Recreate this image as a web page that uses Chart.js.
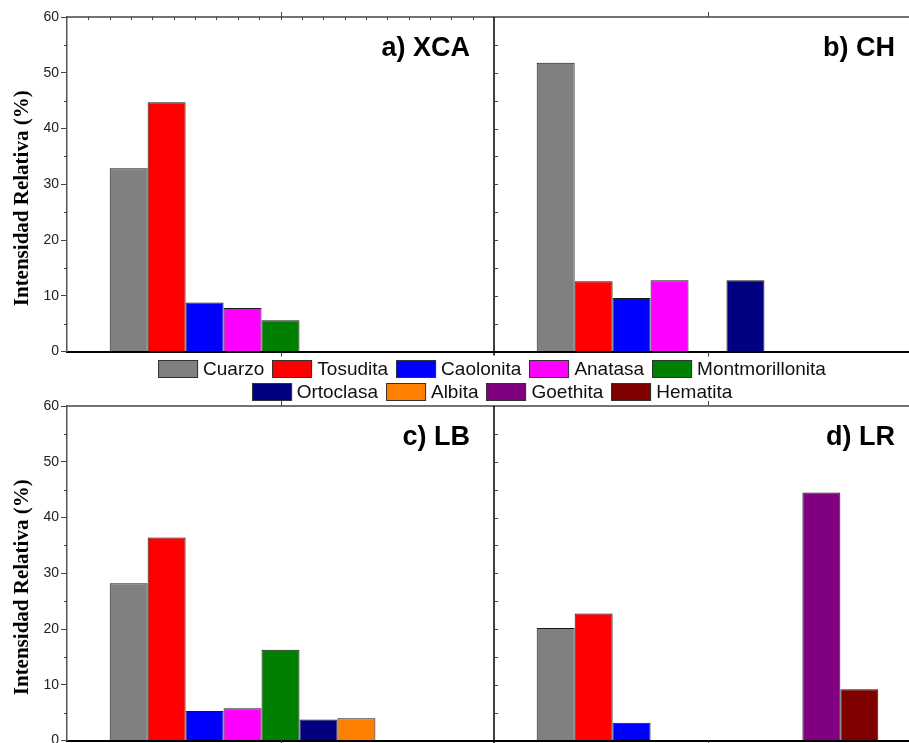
<!DOCTYPE html>
<html lang="es">
<head>
  <meta charset="UTF-8">
  <title>Intensidad Relativa</title>
  <script src="https://cdn.jsdelivr.net/npm/chart.js"></script>
  <style>
    html, body {
      margin: 0;
      padding: 0;
      background: #fff;
      overflow: hidden;
      width: 909px;
      height: 743px;
    }
    .row {
      position: absolute;
      left: 0;
      width: 930px;
    }
    #topRow { top: 0; height: 362px; }
    #bottomRow { top: 392px; height: 359px; }
    #legend {
      position: absolute;
      top: 357px;
      left: 492px;
      transform: translateX(-50%);
      font-family: "Liberation Sans", Arial, sans-serif;
      font-size: 19px;
      color: #111;
      z-index: 2;
    }
    .legend-row {
      display: flex;
      justify-content: center;
      align-items: center;
      height: 23px;
      white-space: nowrap;
    }
    .legend-item {
      display: flex;
      align-items: center;
      margin: 0 4px;
    }
    .legend-box {
      width: 40px;
      height: 18px;
      border: 1px solid #333;
      margin-right: 5px;
      box-sizing: border-box;
    }
  </style>
</head>
<body>
  <div class="row" id="topRow"><canvas id="topChart"></canvas></div>
  <div id="legend"></div>
  <div class="row" id="bottomRow"><canvas id="bottomChart"></canvas></div>

  <script>
    // Minerals (datasets) and their colours
    const minerals = ['Cuarzo', 'Tosudita', 'Caolonita', 'Anatasa', 'Montmorillonita',
                      'Ortoclasa', 'Albita', 'Goethita', 'Hematita'];
    const mineralColors = ['#808080', '#ff0000', '#0000ff', '#ff00ff', '#008000',
                           '#000080', '#ff8000', '#800080', '#800000'];
    const legendRows = [5, 4];

    // Panels
    const topPanels = ['a) XCA', 'b) CH'];
    const bottomPanels = ['c) LB', 'd) LR'];

    // Values per mineral, order: a) XCA, b) CH, c) LB, d) LR (null = not present)
    const cuarzo          = [32.9, 51.8, 28.2, 20.2];
    const tosudita        = [44.7, 12.6, 36.4, 22.8];
    const caolonita       = [8.8, 9.6, 5.3, 3.2];
    const anatasa         = [7.8, 12.8, 5.8, null];
    const montmorillonita = [5.6, null, 16.3, null];
    const ortoclasa       = [null, 12.8, 3.8, null];
    const albita          = [null, null, 4.0, null];
    const goethita        = [null, null, null, 44.5];
    const hematita        = [null, null, null, 9.2];

    const seriesValues = [cuarzo, tosudita, caolonita, anatasa, montmorillonita,
                          ortoclasa, albita, goethita, hematita];

    const yTicks = [0, 10, 20, 30, 40, 50, 60];
    const yTitle = 'Intensidad Relativa (%)';

    // Legend (HTML)
    const legend = document.getElementById('legend');
    let idx = 0;
    legendRows.forEach(function (count) {
      const row = document.createElement('div');
      row.className = 'legend-row';
      for (let i = 0; i < count; i++, idx++) {
        const item = document.createElement('div');
        item.className = 'legend-item';
        const box = document.createElement('span');
        box.className = 'legend-box';
        box.style.background = mineralColors[idx];
        const txt = document.createElement('span');
        txt.textContent = minerals[idx];
        item.appendChild(box);
        item.appendChild(txt);
        row.appendChild(item);
      }
      legend.appendChild(row);
    });

    // Frame, extra ticks, panel labels and y title
    const framePlugin = {
      id: 'frame',
      afterDraw(chart, args, opts) {
        const ctx = chart.ctx;
        const area = chart.chartArea;
        const x = chart.scales.x;
        const y = chart.scales.y;
        const p0 = x.getPixelForValue(0);
        const p1 = x.getPixelForValue(1);
        const mid = (p0 + p1) / 2;
        const catW = p1 - p0;
        ctx.save();

        // top line
        ctx.strokeStyle = '#444';
        ctx.lineWidth = 1.5;
        ctx.beginPath();
        ctx.moveTo(area.left, area.top);
        ctx.lineTo(area.right, area.top);
        ctx.stroke();

        // minor ticks on the left axis (outside)
        ctx.lineWidth = 1;
        ctx.strokeStyle = '#444';
        for (let v = 5; v < 60; v += 10) {
          const py = Math.round(y.getPixelForValue(v)) + 0.5;
          ctx.beginPath();
          ctx.moveTo(area.left - 3, py);
          ctx.lineTo(area.left, py);
          ctx.stroke();
        }

        // small ticks along the top (left panel)
        if (opts.minorTop) {
          for (let k = 1; k < 20; k++) {
            const px = Math.round(area.left + k * catW / 20) + 0.5;
            ctx.beginPath();
            ctx.moveTo(px, area.top);
            ctx.lineTo(px, area.top + 3);
            ctx.stroke();
          }
        }

        // ticks at category centres on top and bottom
        [p0, p1].forEach(function (c) {
          const px = Math.round(c) + 0.5;
          ctx.beginPath();
          ctx.moveTo(px, area.bottom);
          ctx.lineTo(px, area.bottom + 5);
          ctx.moveTo(px, area.top);
          ctx.lineTo(px, area.top - 5);
          ctx.stroke();
        });

        // divider between panels
        ctx.strokeStyle = '#000';
        ctx.lineWidth = 1.5;
        ctx.beginPath();
        ctx.moveTo(mid, area.top);
        ctx.lineTo(mid, area.bottom + 4);
        ctx.stroke();

        // divider ticks (inside, right)
        ctx.lineWidth = 1;
        ctx.strokeStyle = '#444';
        for (let v = 5; v < 60; v += 5) {
          const py = Math.round(y.getPixelForValue(v)) + 0.5;
          ctx.beginPath();
          ctx.moveTo(mid, py);
          ctx.lineTo(mid + 4, py);
          ctx.stroke();
        }

        // panel labels
        ctx.fillStyle = '#000';
        ctx.font = 'bold 27px "Liberation Sans", Arial, sans-serif';
        ctx.textAlign = 'right';
        ctx.textBaseline = 'middle';
        ctx.fillText(x.getLabels()[0], mid - 24, area.top + 32);
        ctx.fillText(x.getLabels()[1], area.right - 26, area.top + 32);

        // y title
        ctx.save();
        ctx.translate(23, (area.top + area.bottom) / 2 + 14);
        ctx.rotate(-Math.PI / 2);
        ctx.textAlign = 'center';
        ctx.font = 'bold 21px "Liberation Serif", "Times New Roman", serif';
        ctx.fillText(yTitle, 0, 0);
        ctx.restore();

        ctx.restore();
      }
    };

    function makeChart(canvasId, panels, from, pad, minorTop) {
      const datasets = minerals.map(function (name, i) {
        return {
          label: name,
          data: seriesValues[i].slice(from, from + 2),
          backgroundColor: mineralColors[i],
          borderColor: '#1a1a1a',
          borderWidth: 1,
          categoryPercentage: 0.8,
          barPercentage: 1.0
        };
      });

      return new Chart(document.getElementById(canvasId), {
        type: 'bar',
        data: { labels: panels, datasets: datasets },
        options: {
          responsive: true,
          maintainAspectRatio: false,
          animation: false,
          layout: { padding: pad },
          plugins: {
            legend: { display: false },
            tooltip: { enabled: false },
            frame: { minorTop: minorTop }
          },
          scales: {
            x: {
              afterFit: function (s) { s.height = 0; },
              grid: { display: false },
              ticks: { display: false },
              border: { color: '#000', width: 2 }
            },
            y: {
              min: 0,
              max: 60,
              afterFit: function (s) { s.width = 67; },
              afterBuildTicks: function (s) {
                s.ticks = yTicks.map(function (v) { return { value: v }; });
              },
              grid: {
                drawOnChartArea: false,
                drawTicks: true,
                tickLength: 6,
                tickColor: '#444',
                tickWidth: 1
              },
              border: { color: '#555', width: 1.5 },
              ticks: {
                color: '#222',
                padding: 2,
                font: { family: '"Liberation Sans", Arial, sans-serif', size: 14 }
              }
            }
          }
        },
        plugins: [framePlugin]
      });
    }

    makeChart('topChart', topPanels, 0, { top: 17, bottom: 2, left: 0, right: 9 }, true);
    makeChart('bottomChart', bottomPanels, 2, { top: 14, bottom: 2, left: 0, right: 9 }, false);
  </script>
</body>
</html>
